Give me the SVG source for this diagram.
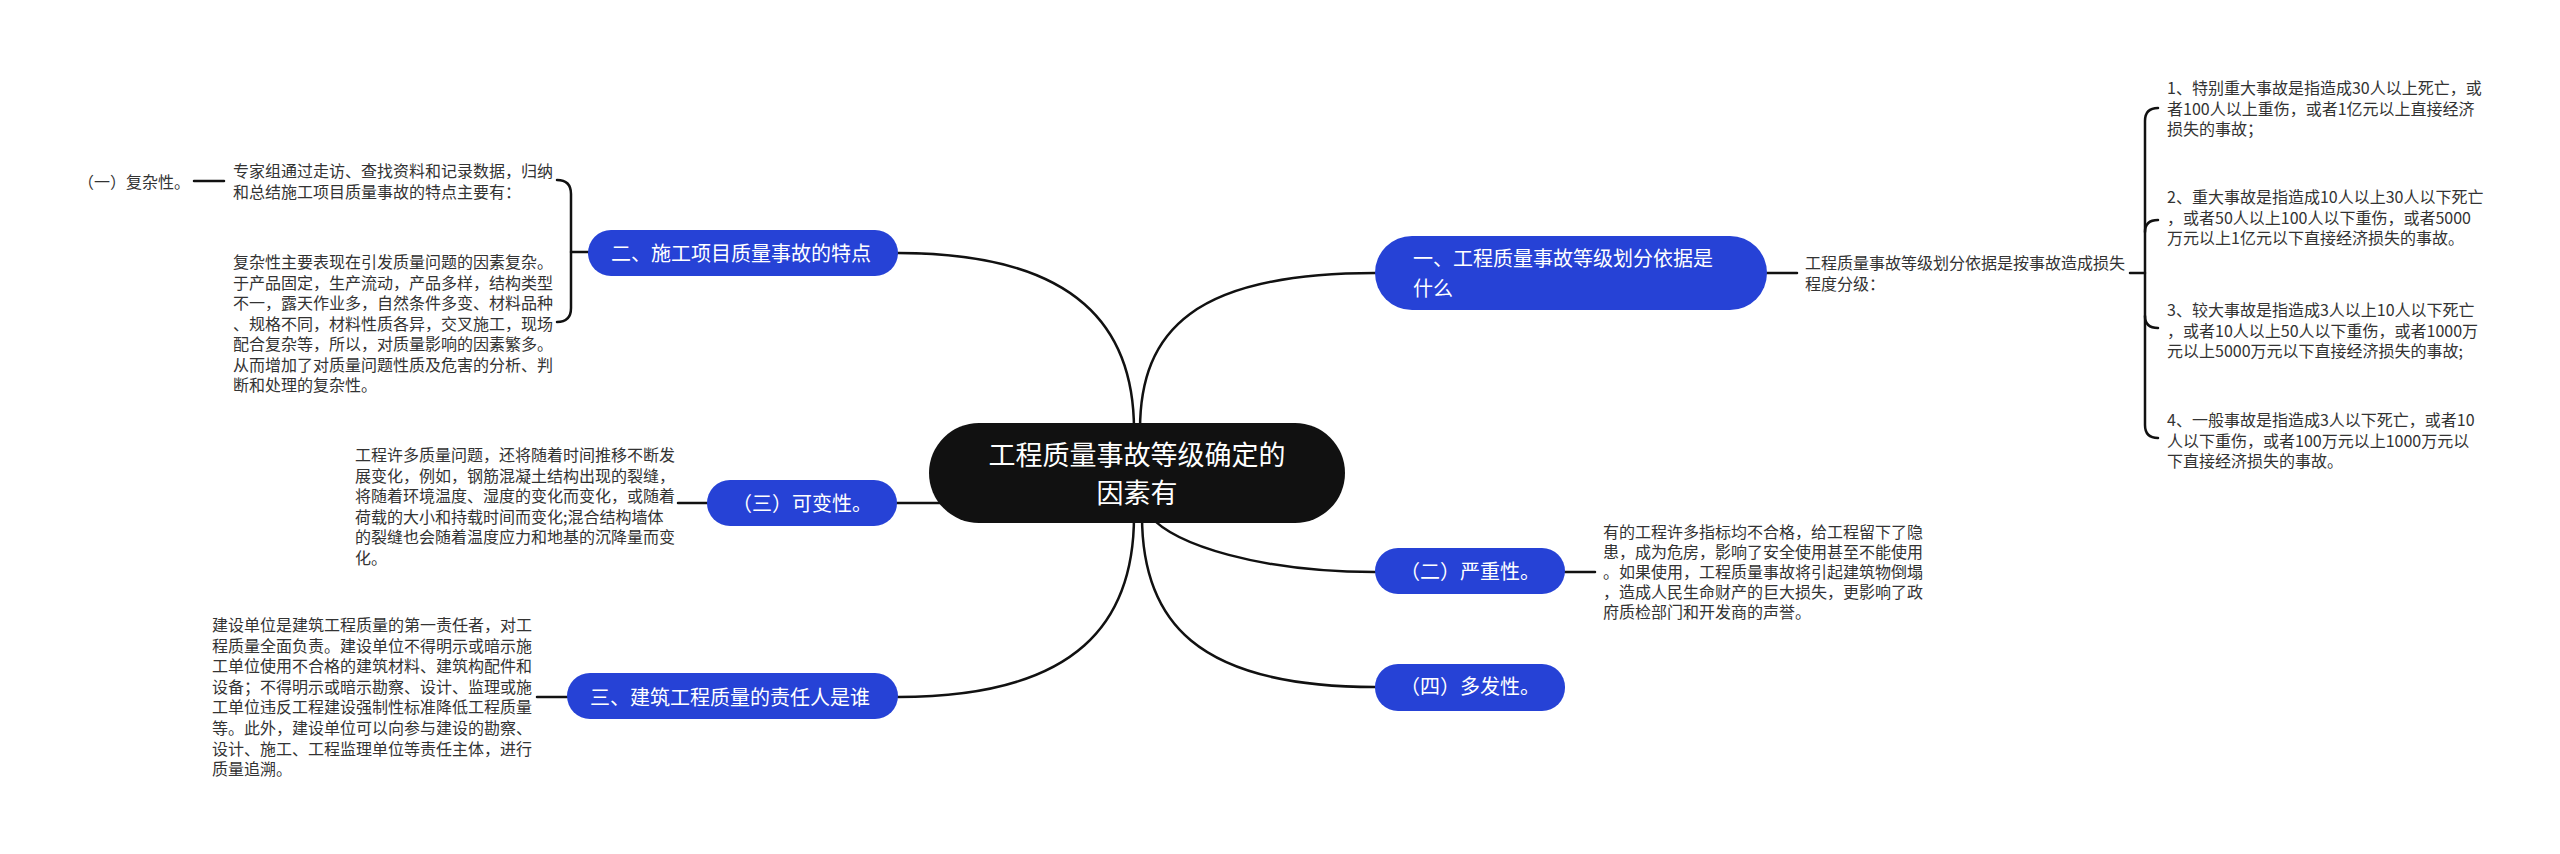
<svg xmlns="http://www.w3.org/2000/svg" width="2560" height="854" viewBox="0 0 2560 854">
<style>
.t{font-family:"Noto Sans CJK SC","Noto Sans",sans-serif;font-size:16px;fill:#333}
.n{font-family:"Noto Sans CJK SC","Noto Sans",sans-serif;font-size:20px;fill:#fff}
.c{font-family:"Noto Sans CJK SC","Noto Sans",sans-serif;font-size:27px;fill:#fff}
.blue{fill:#2642D6}
.ln{fill:none;stroke:#111;stroke-width:2.5;stroke-linecap:round}
</style>
<rect width="2560" height="854" fill="#fff"/>
<g id="connectors">
<path class="ln" d="M1140,430 C1140,330 1195,273 1375,273"/>
<path class="ln" d="M1134,430 C1134,330 1080,253 898,253"/>
<path class="ln" d="M897,503 L942,503"/>
<path class="ln" d="M1134,516 C1134,620 1080,697 898,697"/>
<path class="ln" d="M1142,516 C1142,620 1195,687 1375,687"/>
<path class="ln" d="M1150,516 C1175,545 1260,572 1375,572"/>
<path class="ln" d="M1767,273 L1797,273"/>
<path class="ln" d="M2130,273 L2145,273"/>
<path class="ln" d="M2158,108 Q2145,108 2145,121 L2145,425 Q2145,438 2158,438"/>
<path class="ln" d="M2145,232 Q2145,220 2158,220"/>
<path class="ln" d="M2145,316 Q2145,328 2158,328"/>
<path class="ln" d="M1565,572 L1595,572"/>
<path class="ln" d="M537,697 L567,697"/>
<path class="ln" d="M678,503 L707,503"/>
<path class="ln" d="M557,180 Q571,180 571,194 L571,308 Q571,322 557,322"/>
<path class="ln" d="M571,252 L588,252"/>
<path class="ln" d="M194,181 L224,181"/>
</g>
<g id="center">
<rect x="929" y="423" width="416" height="100" rx="50" fill="#111"/>
<text class="c" x="1137" y="465" text-anchor="middle">工程质量事故等级确定的</text>
<text class="c" x="1137" y="503" text-anchor="middle">因素有</text>
</g>
<g id="node1">
<rect class="blue" x="1375" y="236" width="392" height="74" rx="37"/>
<text class="n" x="1413" y="266">一、工程质量事故等级划分依据是</text>
<text class="n" x="1413" y="296">什么</text>
</g>
<g id="node1-detail">
<text class="t" x="1805" y="269">工程质量事故等级划分依据是按事故造成损失<tspan x="1805" dy="20.5">程度分级：</tspan></text>
</g>
<g id="item1">
<text class="t" x="2167" y="94">1、特别重大事故是指造成30人以上死亡，或<tspan x="2167" dy="20.5">者100人以上重伤，或者1亿元以上直接经济</tspan><tspan x="2167" dy="20.5">损失的事故；</tspan></text>
</g>
<g id="item2">
<text class="t" x="2167" y="203">2、重大事故是指造成10人以上30人以下死亡<tspan x="2167" dy="20.5">，或者50人以上100人以下重伤，或者5000</tspan><tspan x="2167" dy="20.5">万元以上1亿元以下直接经济损失的事故。</tspan></text>
</g>
<g id="item3">
<text class="t" x="2167" y="316">3、较大事故是指造成3人以上10人以下死亡<tspan x="2167" dy="20.5">，或者10人以上50人以下重伤，或者1000万</tspan><tspan x="2167" dy="20.5">元以上5000万元以下直接经济损失的事故;</tspan></text>
</g>
<g id="item4">
<text class="t" x="2167" y="426">4、一般事故是指造成3人以下死亡，或者10<tspan x="2167" dy="20.5">人以下重伤，或者100万元以上1000万元以</tspan><tspan x="2167" dy="20.5">下直接经济损失的事故。</tspan></text>
</g>
<g id="node2">
<rect class="blue" x="588" y="230" width="310" height="46" rx="23"/>
<text class="n" x="611" y="261">二、施工项目质量事故的特点</text>
</g>
<g id="node2-detail1">
<text class="t" x="233" y="177">专家组通过走访、查找资料和记录数据，归纳<tspan x="233" dy="20.5">和总结施工项目质量事故的特点主要有：</tspan></text>
</g>
<g id="node2-label">
<text class="t" x="78" y="188">（一）复杂性。</text>
</g>
<g id="node2-detail2">
<text class="t" x="233" y="268">复杂性主要表现在引发质量问题的因素复杂。<tspan x="233" dy="20.5">于产品固定，生产流动，产品多样，结构类型</tspan><tspan x="233" dy="20.5">不一，露天作业多，自然条件多变、材料品种</tspan><tspan x="233" dy="20.5">、规格不同，材料性质各异，交叉施工，现场</tspan><tspan x="233" dy="20.5">配合复杂等，所以，对质量影响的因素繁多。</tspan><tspan x="233" dy="20.5">从而增加了对质量问题性质及危害的分析、判</tspan><tspan x="233" dy="20.5">断和处理的复杂性。</tspan></text>
</g>
<g id="node-kebian">
<rect class="blue" x="707" y="480" width="190" height="46" rx="23"/>
<text class="n" x="732" y="511">（三）可变性。</text>
</g>
<g id="node-kebian-detail">
<text class="t" x="355" y="461">工程许多质量问题，还将随着时间推移不断发<tspan x="355" dy="20.5">展变化，例如，钢筋混凝土结构出现的裂缝，</tspan><tspan x="355" dy="20.5">将随着环境温度、湿度的变化而变化，或随着</tspan><tspan x="355" dy="20.5">荷载的大小和持载时间而变化;混合结构墙体</tspan><tspan x="355" dy="20.5">的裂缝也会随着温度应力和地基的沉降量而变</tspan><tspan x="355" dy="20.5">化。</tspan></text>
</g>
<g id="node3">
<rect class="blue" x="567" y="673" width="331" height="46" rx="23"/>
<text class="n" x="590" y="705">三、建筑工程质量的责任人是谁</text>
</g>
<g id="node3-detail">
<text class="t" x="212" y="631">建设单位是建筑工程质量的第一责任者，对工<tspan x="212" dy="20.6">程质量全面负责。建设单位不得明示或暗示施</tspan><tspan x="212" dy="20.6">工单位使用不合格的建筑材料、建筑构配件和</tspan><tspan x="212" dy="20.6">设备；不得明示或暗示勘察、设计、监理或施</tspan><tspan x="212" dy="20.6">工单位违反工程建设强制性标准降低工程质量</tspan><tspan x="212" dy="20.6">等。此外，建设单位可以向参与建设的勘察、</tspan><tspan x="212" dy="20.6">设计、施工、工程监理单位等责任主体，进行</tspan><tspan x="212" dy="20.6">质量追溯。</tspan></text>
</g>
<g id="node-yanzhong">
<rect class="blue" x="1375" y="548" width="190" height="46" rx="23"/>
<text class="n" x="1400" y="579">（二）严重性。</text>
</g>
<g id="node-yanzhong-detail">
<text class="t" x="1603" y="538">有的工程许多指标均不合格，给工程留下了隐<tspan x="1603" dy="20">患，成为危房，影响了安全使用甚至不能使用</tspan><tspan x="1603" dy="20">。如果使用，工程质量事故将引起建筑物倒塌</tspan><tspan x="1603" dy="20">，造成人民生命财产的巨大损失，更影响了政</tspan><tspan x="1603" dy="20">府质检部门和开发商的声誉。</tspan></text>
</g>
<g id="node-duofa">
<rect class="blue" x="1375" y="664" width="190" height="47" rx="23"/>
<text class="n" x="1400" y="694">（四）多发性。</text>
</g>
</svg>
